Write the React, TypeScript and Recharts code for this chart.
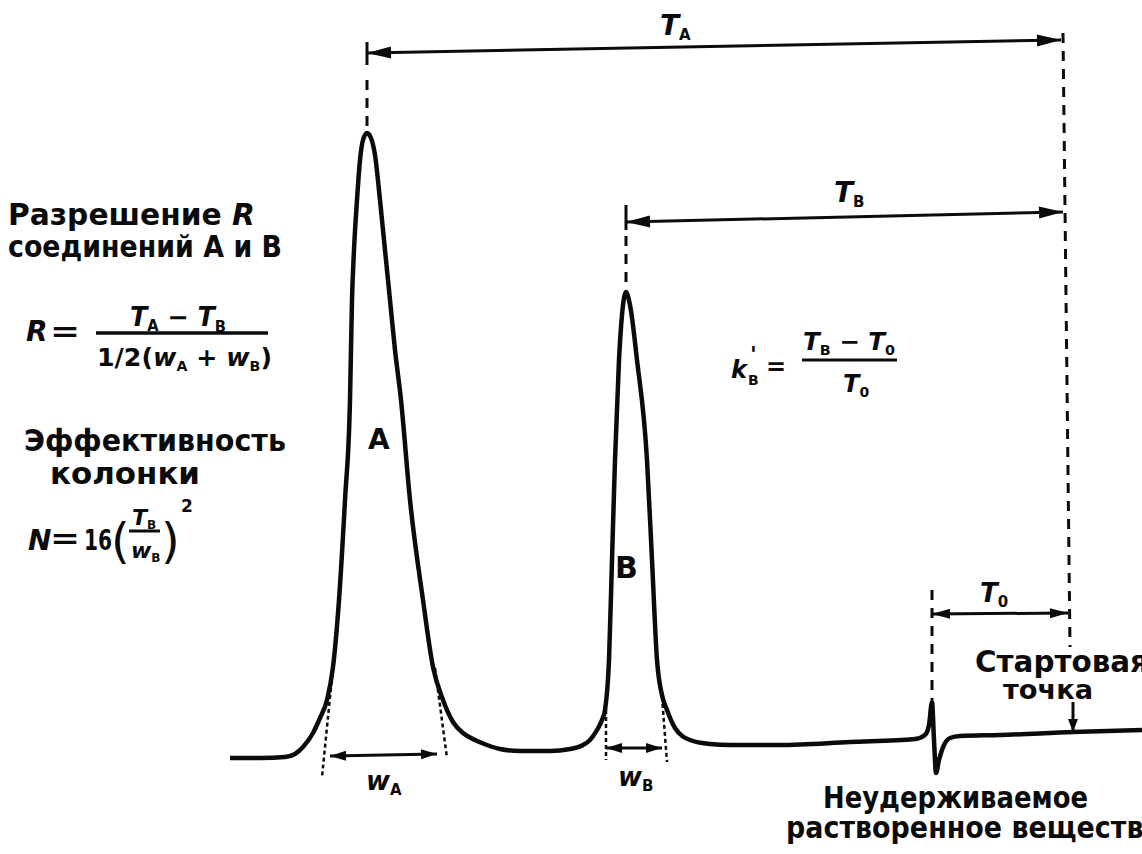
import { LineChart, Line, XAxis, YAxis, ReferenceLine } from 'recharts';

// Chromatogram trace: time (left = late, right = injection) and detector signal
const traceTime = [
  230, 260, 285, 295, 303, 313, 320, 327, 333, 339,
  345, 350, 352, 354, 357, 360, 363, 367, 371, 375,
  380, 385, 390, 395, 401, 410, 423, 433, 443, 453,
  463, 475, 487, 500, 520, 550, 570, 583, 590, 597,
  602, 605, 609, 612, 615, 619, 622, 626, 630, 637,
  647, 652, 657, 662, 667, 675, 690, 710, 730, 780,
  850, 915, 925, 929, 932, 934, 936, 939, 944, 950,
  960, 1000, 1073, 1142
];
const traceSignal = [
  96, 96, 97, 100, 107, 121, 136, 154, 187, 254,
  354, 454, 554, 604, 654, 694, 714, 721, 716, 699,
  654, 604, 554, 504, 454, 354, 254, 187, 154, 132,
  121, 114, 109, 105, 103, 103, 105, 109, 114, 124,
  134, 144, 194, 294, 394, 494, 539, 562, 549, 494,
  394, 294, 194, 159, 144, 126, 114, 110, 109, 109,
  112, 115, 119, 129, 152, 114, 81, 94, 109, 116,
  118, 119, 122, 124
];

// key times
const peakA = 367;
const peakB = 626;
const unretained = 932;
const startTop = 1063;
const startBottom = 1072;
const startArrowX = 1073;

// peak widths: tangent lines [top x, top y, bottom x, bottom y]
const tangentsA = [[333, 187, 322, 77], [435, 186, 447, 96]];
const tangentsB = [[606, 144, 606, 94], [662, 157, 667, 92]];
const widthA = [330, 98, 437, 100];
const widthB = [606, 106, 662, 106];

const traceData = traceTime.map((t, i) => ({ t, signal: traceSignal[i] }));

const FONT = '"DejaVu Sans", "Open Sans", sans-serif';
const INK = '#0b0b0b';

function makeArrow(head: number, half: number, both: boolean) {
  return (props: any) => {
    const { x1, y1, x2, y2 } = props;
    const dx = x2 - x1;
    const dy = y2 - y1;
    const len = Math.sqrt(dx * dx + dy * dy) || 1;
    const ux = dx / len;
    const uy = dy / len;
    const tri = (px: number, py: number, dir: number) => {
      const bx = px - ux * head * dir;
      const by = py - uy * head * dir;
      return `${px},${py} ${bx - uy * half},${by + ux * half} ${bx + uy * half},${by - ux * half}`;
    };
    return (
      <g>
        <line x1={x1} y1={y1} x2={x2} y2={y2} stroke={INK} strokeWidth={3} />
        <polygon points={tri(x2, y2, 1)} fill={INK} />
        {both && <polygon points={tri(x1, y1, -1)} fill={INK} />}
      </g>
    );
  };
}

const bigArrow = makeArrow(24, 6, true);
const midArrow = makeArrow(18, 5, true);
const blobArrow = makeArrow(16, 5, true);
const downArrow = makeArrow(13, 5, false);

function Sub({ children, size }: { children: any; size: number }) {
  return (
    <tspan fontSize={size} fontStyle="normal" dy={size * 0.35}>
      {children}
    </tspan>
  );
}

function Overlay() {
  const t = { fontFamily: FONT, fontWeight: 700, fill: INK } as const;
  return (
    <svg
      width={1142}
      height={854}
      style={{ position: 'absolute', left: 0, top: 0, pointerEvents: 'none' }}
    >
      {/* retention labels */}
      <text {...t} x={660} y={35} fontSize={28} fontStyle="italic">
        T<Sub size={15}>A</Sub>
      </text>
      <text {...t} x={834} y={202} fontSize={28} fontStyle="italic">
        T<Sub size={15}>B</Sub>
      </text>
      <text {...t} x={980} y={602} fontSize={26} fontStyle="italic">
        T<Sub size={15}>0</Sub>
      </text>

      {/* peak names */}
      <text {...t} x={368} y={449} fontSize={28}>A</text>
      <text {...t} x={615} y={578} fontSize={30}>B</text>

      {/* widths */}
      <text {...t} x={366} y={790} fontSize={26} fontStyle="italic">
        w<Sub size={15}>A</Sub>
      </text>
      <text {...t} x={618} y={786} fontSize={26} fontStyle="italic">
        w<Sub size={15}>B</Sub>
      </text>

      {/* resolution */}
      <text {...t} x={8} y={225} fontSize={30} textLength={247} lengthAdjust="spacingAndGlyphs">
        Разрешение <tspan fontStyle="italic">R</tspan>
      </text>
      <text {...t} x={8} y={257} fontSize={30} textLength={274} lengthAdjust="spacingAndGlyphs">
        соединений А и В
      </text>
      <text {...t} x={26} y={341} fontSize={28} fontStyle="italic">R</text>
      <text {...t} x={50} y={341} fontSize={28} textLength={30} lengthAdjust="spacingAndGlyphs">=</text>
      <text {...t} x={130} y={326} fontSize={26} fontStyle="italic" textLength={96} lengthAdjust="spacingAndGlyphs">
        T<Sub size={15}>A</Sub>
        <tspan dy={-5}> − </tspan>T<Sub size={15}>B</Sub>
      </text>
      <line x1={96} y1={333} x2={268} y2={333} stroke={INK} strokeWidth={3.5} />
      <text {...t} x={97} y={366} fontSize={25} textLength={175} lengthAdjust="spacingAndGlyphs">
        1/2(<tspan fontStyle="italic">w</tspan>
        <Sub size={14}>A</Sub>
        <tspan dy={-4.9}> + </tspan>
        <tspan fontStyle="italic">w</tspan>
        <Sub size={14}>B</Sub>
        <tspan dy={-4.9}>)</tspan>
      </text>

      {/* efficiency */}
      <text {...t} x={24} y={451} fontSize={30} textLength={262} lengthAdjust="spacingAndGlyphs">
        Эффективность
      </text>
      <text {...t} x={50} y={484} fontSize={30} textLength={150} lengthAdjust="spacingAndGlyphs">
        колонки
      </text>
      <text {...t} x={28} y={550} fontSize={28} fontStyle="italic">N</text>
      <text {...t} x={50} y={548} fontSize={28} textLength={30} lengthAdjust="spacingAndGlyphs">=</text>
      <text {...t} x={84} y={550} fontSize={28} textLength={28} lengthAdjust="spacingAndGlyphs">16</text>
      <text {...t} x={111} y={558} fontSize={48} fontWeight={400}>(</text>
      <text {...t} x={132} y={525} fontSize={22} fontStyle="italic">
        T<Sub size={12}>B</Sub>
      </text>
      <line x1={129} y1={531} x2={160} y2={531} stroke={INK} strokeWidth={3} />
      <text {...t} x={131} y={558} fontSize={22} fontStyle="italic">
        w<Sub size={12}>B</Sub>
      </text>
      <text {...t} x={161} y={558} fontSize={48} fontWeight={400}>)</text>
      <text {...t} x={181} y={512} fontSize={17}>2</text>

      {/* capacity factor */}
      <text {...t} x={731} y={378} fontSize={24} fontStyle="italic">k</text>
      <text {...t} x={748} y={385} fontSize={14}>B</text>
      <text {...t} x={750} y={362} fontSize={22}>'</text>
      <text {...t} x={766} y={375} fontSize={24}>=</text>
      <text {...t} x={803} y={350} fontSize={24} fontStyle="italic" textLength={92} lengthAdjust="spacingAndGlyphs">
        T<Sub size={14}>B</Sub>
        <tspan dy={-5}> − </tspan>T<Sub size={14}>0</Sub>
      </text>
      <line x1={802} y1={360} x2={897} y2={360} stroke={INK} strokeWidth={3} />
      <text {...t} x={843} y={392} fontSize={24} fontStyle="italic">
        T<Sub size={14}>0</Sub>
      </text>

      {/* right side notes */}
      <text {...t} x={975} y={672} fontSize={30} fontWeight={600} textLength={174} lengthAdjust="spacingAndGlyphs">
        Стартовая
      </text>
      <text {...t} x={1003} y={699} fontSize={27} fontWeight={600} textLength={90} lengthAdjust="spacingAndGlyphs">
        точка
      </text>
      <text {...t} x={823} y={808} fontSize={30} textLength={265} lengthAdjust="spacingAndGlyphs">
        Неудерживаемое
      </text>
      <text {...t} x={786} y={838} fontSize={30} textLength={376} lengthAdjust="spacingAndGlyphs">
        растворенное вещество
      </text>
    </svg>
  );
}

export default function App() {
  const dash = { stroke: INK, strokeWidth: 3, strokeDasharray: '10 8', ifOverflow: 'visible' as const };
  const dot = { stroke: INK, strokeWidth: 2.5, strokeDasharray: '4 3', ifOverflow: 'visible' as const };
  const solid = { stroke: INK, strokeWidth: 3, ifOverflow: 'visible' as const };
  return (
    <div style={{ position: 'absolute', left: 0, top: 0, width: 1142, height: 854, background: '#fff' }}>
      <LineChart width={1142} height={854} data={traceData} margin={{ top: 0, right: 0, bottom: 0, left: 0 }}>
        <XAxis type="number" dataKey="t" domain={[0, 1142]} hide allowDataOverflow />
        <YAxis type="number" domain={[0, 854]} hide allowDataOverflow />

        {/* peak apex markers */}
        <ReferenceLine {...solid} segment={[{ x: peakA, y: 812 }, { x: peakA, y: 789 }]} />
        <ReferenceLine {...dash} segment={[{ x: peakA, y: 774 }, { x: peakA, y: 727 }]} />
        <ReferenceLine {...solid} segment={[{ x: peakB, y: 649 }, { x: peakB, y: 624 }]} />
        <ReferenceLine {...dash} segment={[{ x: peakB, y: 618 }, { x: peakB, y: 568 }]} />
        {/* start line and unretained line */}
        <ReferenceLine {...dash} segment={[{ x: startTop, y: 821 }, { x: startBottom - 2, y: 207 }]} />
        <ReferenceLine {...dash} segment={[{ x: unretained, y: 264 }, { x: unretained, y: 154 }]} />

        {/* retention arrows */}
        <ReferenceLine {...solid} segment={[{ x: peakA, y: 801 }, { x: startTop - 2, y: 814 }]} shape={bigArrow} />
        <ReferenceLine {...solid} segment={[{ x: peakB, y: 632 }, { x: startTop, y: 642 }]} shape={bigArrow} />
        <ReferenceLine {...solid} segment={[{ x: unretained, y: 240 }, { x: startBottom - 4, y: 241 }]} shape={midArrow} />
        <ReferenceLine {...solid} segment={[{ x: startArrowX, y: 152 }, { x: startArrowX, y: 122 }]} shape={downArrow} />

        {/* tangents and widths */}
        {[...tangentsA, ...tangentsB].map((s, i) => (
          <ReferenceLine key={`tg${i}`} {...dot} segment={[{ x: s[0], y: s[1] }, { x: s[2], y: s[3] }]} />
        ))}
        <ReferenceLine {...solid} segment={[{ x: widthA[0], y: widthA[1] }, { x: widthA[2], y: widthA[3] }]} shape={blobArrow} />
        <ReferenceLine {...solid} segment={[{ x: widthB[0], y: widthB[1] }, { x: widthB[2], y: widthB[3] }]} shape={blobArrow} />

        <Line
          type="monotone"
          dataKey="signal"
          stroke={INK}
          strokeWidth={4.5}
          dot={false}
          activeDot={false}
          isAnimationActive={false}
        />
      </LineChart>
      <Overlay />
    </div>
  );
}
